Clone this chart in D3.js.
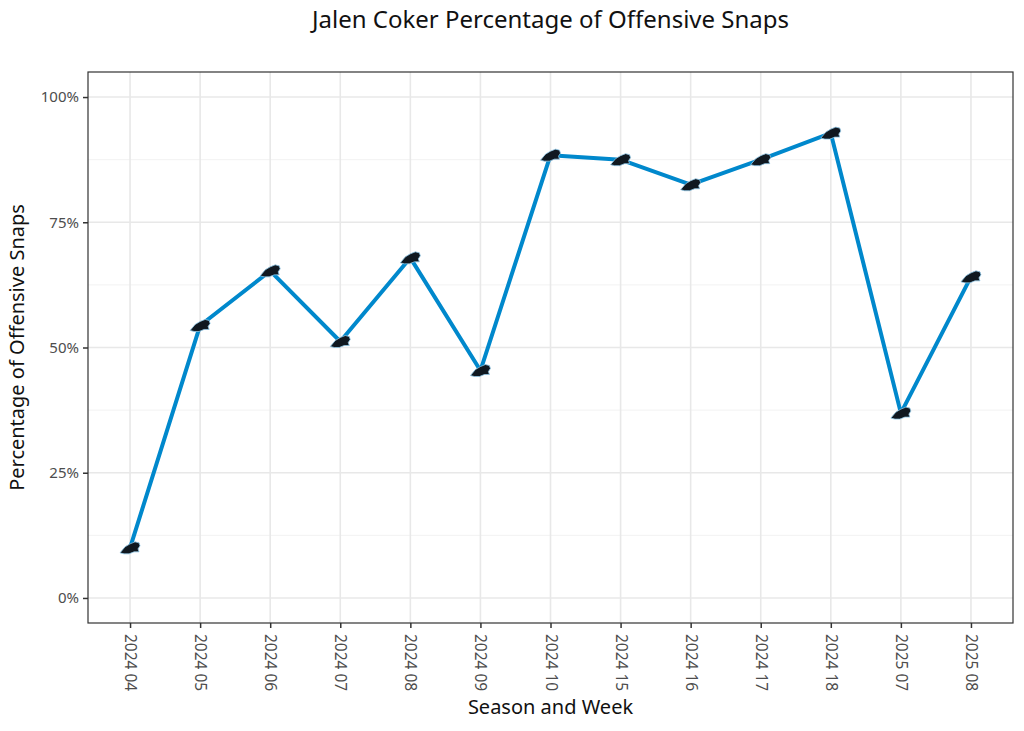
<!DOCTYPE html>
<html>
<head>
<meta charset="utf-8">
<script src="https://cdn.jsdelivr.net/npm/d3@7"></script>
<style>
  body { margin: 0; background: #fff; }
  text { font-family: "Noto Sans", "DejaVu Sans", sans-serif; }
</style>
</head>
<body>
<svg width="1024" height="731"></svg>
<script>
// weeks on the x axis
const weeks = ["2024 04", "2024 05", "2024 06", "2024 07", "2024 08", "2024 09",
  "2024 10", "2024 15", "2024 16", "2024 17", "2024 18", "2025 07", "2025 08"];
// share of offensive snaps per week
const snapPct = [0.10, 0.544, 0.653, 0.512, 0.679, 0.454, 0.884, 0.875, 0.825, 0.875, 0.928, 0.369, 0.641];
const yTicks = [0, 0.25, 0.5, 0.75, 1];
const yMinor = [0.125, 0.375, 0.625, 0.875];

const svg = d3.select('svg');
const margin = { top: 72, right: 11, bottom: 108, left: 88 };
const innerWidth = 1024 - margin.left - margin.right;
const innerHeight = 731 - margin.top - margin.bottom;

const g = svg.append('g').attr('transform', `translate(${margin.left},${margin.top})`);

// discrete x with ggplot style 0.6 expansion
const xScale = d3.scalePoint().domain(weeks).range([0, innerWidth]).padding(0.6);
const yScale = d3.scaleLinear().domain([-0.05, 1.05]).range([innerHeight, 0]);

// grid lines
g.selectAll('.minor').data(yMinor).join('line')
  .attr('x1', 0).attr('x2', innerWidth)
  .attr('y1', d => yScale(d)).attr('y2', d => yScale(d))
  .attr('stroke', '#f2f2f2').attr('stroke-width', 1);
g.selectAll('.ymajor').data(yTicks).join('line')
  .attr('x1', 0).attr('x2', innerWidth)
  .attr('y1', d => yScale(d)).attr('y2', d => yScale(d))
  .attr('stroke', '#e8e8e8').attr('stroke-width', 1.6);
g.selectAll('.xmajor').data(weeks).join('line')
  .attr('x1', d => xScale(d)).attr('x2', d => xScale(d))
  .attr('y1', 0).attr('y2', innerHeight)
  .attr('stroke', '#e8e8e8').attr('stroke-width', 1.6);

// axes
const xAxis = g.append('g')
  .attr('transform', `translate(0,${innerHeight})`)
  .call(d3.axisBottom(xScale).tickSize(5).tickPadding(0));
xAxis.select('.domain').remove();
xAxis.selectAll('line').attr('stroke', '#333').attr('stroke-width', 1.5);
xAxis.selectAll('text')
  .attr('fill', '#4d4d4d').attr('font-size', 15.5)
  .attr('x', 0).attr('y', 11).attr('dy', '0.35em')
  .attr('transform', 'rotate(90, 0, 11)')
  .attr('dx', 0)
  .attr('text-anchor', 'start');

const yAxis = g.append('g')
  .call(d3.axisLeft(yScale).tickValues(yTicks).tickFormat(d3.format('.0%')).tickSize(5).tickPadding(4));
yAxis.select('.domain').remove();
yAxis.selectAll('line').attr('stroke', '#333').attr('stroke-width', 1.5);
yAxis.selectAll('text').attr('fill', '#4d4d4d').attr('font-size', 15);

// line
const line = d3.line().x((d, i) => xScale(weeks[i])).y(d => yScale(d));
g.append('path').datum(snapPct)
  .attr('d', line)
  .attr('fill', 'none')
  .attr('stroke', '#0088cc')
  .attr('stroke-width', 4)
  .attr('stroke-linejoin', 'round');

// panther head markers
const headPath = 'M-10,5 L-5,-1 L0,-4 L5,-6 L9,-5 L10,-2 L8,1 L9,4 L4,4 L-1,6 L-6,6 Z';
g.selectAll('.mark').data(snapPct).join('path')
  .attr('d', headPath)
  .attr('transform', (d, i) => `translate(${xScale(weeks[i])},${yScale(d)})`)
  .attr('fill', '#101820')
  .attr('stroke', '#8fc6e6')
  .attr('stroke-width', 0.8);

// panel border
g.append('rect')
  .attr('width', innerWidth).attr('height', innerHeight)
  .attr('fill', 'none').attr('stroke', '#333').attr('stroke-width', 1.2);

// titles
svg.append('text')
  .attr('x', margin.left + innerWidth / 2).attr('y', 28)
  .attr('text-anchor', 'middle').attr('font-size', 24).attr('fill', '#111')
  .text('Jalen Coker Percentage of Offensive Snaps');

svg.append('text')
  .attr('x', margin.left + innerWidth / 2).attr('y', 714)
  .attr('text-anchor', 'middle').attr('font-size', 20).attr('fill', '#111')
  .text('Season and Week');

const yTitleY = margin.top + innerHeight / 2;
svg.append('text')
  .attr('x', 24).attr('y', yTitleY)
  .attr('transform', `rotate(-90, 24, ${yTitleY})`)
  .attr('text-anchor', 'middle').attr('font-size', 20).attr('fill', '#111')
  .text('Percentage of Offensive Snaps');
</script>
</body>
</html>
